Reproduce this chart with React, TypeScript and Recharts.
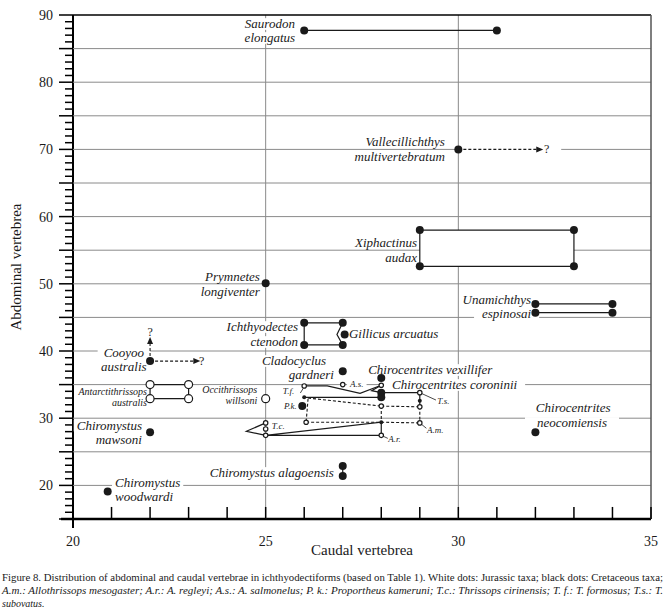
import { ComposedChart, Scatter, XAxis, YAxis } from 'recharts';

type Pt = { x: number; y: number };

// axes
const xTicks = [20, 21, 22, 23, 24, 25, 26, 27, 28, 29, 30, 31, 32, 33, 34, 35];
const yTicks = Array.from({ length: 76 }, (_, i) => 15 + i);
const gridY = [20, 25, 30, 35, 40, 45, 50, 55, 60, 65, 70, 75, 80, 85];
const gridX = [25, 30];

// ranges per taxon (caudal = x, abdominal = y)
const saurodon: Pt[] = [{ x: 26, y: 87.7 }, { x: 31, y: 87.7 }];
const vallecillichthys: Pt[] = [{ x: 30, y: 70 }, { x: 32.05, y: 70 }];
const xiphactinus: Pt[] = [
  { x: 29, y: 58 }, { x: 33, y: 58 }, { x: 33, y: 52.6 }, { x: 29, y: 52.6 }, { x: 29, y: 58 },
];
const unamichthysTop: Pt[] = [{ x: 32, y: 47 }, { x: 34, y: 47 }];
const unamichthysBottom: Pt[] = [{ x: 32, y: 45.7 }, { x: 34, y: 45.7 }];
const ichthyodectes: Pt[] = [
  { x: 27, y: 44.2 }, { x: 26, y: 44.2 }, { x: 26, y: 40.9 }, { x: 27, y: 40.9 },
  { x: 26.85, y: 42.45 }, { x: 27, y: 44.2 },
];
const cooyooUp: Pt[] = [{ x: 22, y: 38.5 }, { x: 22, y: 41.3 }];
const cooyooRight: Pt[] = [{ x: 22, y: 38.5 }, { x: 23.15, y: 38.5 }];
const antarctithrissops: Pt[] = [
  { x: 22, y: 35 }, { x: 23, y: 35 }, { x: 23, y: 32.9 }, { x: 22, y: 32.9 }, { x: 22, y: 35 },
];
const alagoensis: Pt[] = [{ x: 27, y: 22.9 }, { x: 27, y: 21.4 }];
const tfUpper: Pt[] = [{ x: 26, y: 34.8 }, { x: 26.6, y: 34.8 }, { x: 27.45, y: 33.7 }, { x: 28, y: 34.9 }];
const tfLower: Pt[] = [{ x: 26, y: 33.1 }, { x: 28, y: 33.1 }];
const coroniniiZig: Pt[] = [{ x: 28, y: 34.9 }, { x: 27.75, y: 34.1 }, { x: 28, y: 33.8 }];
const tsSolid: Pt[] = [{ x: 28, y: 33.8 }, { x: 29, y: 33.8 }, { x: 29, y: 31.7 }];
const tsDashed: Pt[] = [{ x: 28, y: 31.8 }, { x: 29, y: 31.7 }];
const pkDashed: Pt[] = [{ x: 26.1, y: 33 }, { x: 28, y: 31.8 }];
const vertDashedA: Pt[] = [{ x: 26.1, y: 32.9 }, { x: 26.05, y: 29.4 }];
const amDashed: Pt[] = [{ x: 26.05, y: 29.4 }, { x: 28, y: 29.4 }, { x: 29, y: 29.3 }];
const vertDashedB: Pt[] = [{ x: 28, y: 31.8 }, { x: 28, y: 29.4 }];
const vertDashedC: Pt[] = [{ x: 29, y: 31.7 }, { x: 29, y: 29.3 }];
const tcChevron: Pt[] = [{ x: 25, y: 29.3 }, { x: 24.5, y: 28.05 }, { x: 25, y: 27.45 }];
const arTriangle: Pt[] = [{ x: 25, y: 27.45 }, { x: 28, y: 29.4 }, { x: 28, y: 27.45 }, { x: 25, y: 27.45 }];
const leaders: Pt[][] = [
  [{ x: 29, y: 33.8 }, { x: 29.42, y: 32.7 }],
  [{ x: 29, y: 29.3 }, { x: 29.17, y: 28.5 }],
  [{ x: 28, y: 27.45 }, { x: 28.17, y: 27.0 }],
  [{ x: 25.9, y: 33.75 }, { x: 25.97, y: 34.4 }],
];

// dots
const cretaceousDots: Pt[] = [
  { x: 26, y: 87.7 }, { x: 31, y: 87.7 }, { x: 30, y: 70 },
  { x: 29, y: 58 }, { x: 33, y: 58 }, { x: 33, y: 52.6 }, { x: 29, y: 52.6 },
  { x: 32, y: 47 }, { x: 34, y: 47 }, { x: 32, y: 45.7 }, { x: 34, y: 45.7 },
  { x: 25, y: 50.1 }, { x: 22, y: 38.5 },
  { x: 26, y: 44.2 }, { x: 27, y: 44.2 }, { x: 26, y: 40.9 }, { x: 27, y: 40.9 }, { x: 27.05, y: 42.45 },
  { x: 27, y: 37 }, { x: 28, y: 36 }, { x: 28, y: 33.8 }, { x: 28, y: 33.1 }, { x: 25.95, y: 31.8 },
  { x: 22, y: 27.9 }, { x: 20.9, y: 19.1 }, { x: 27, y: 22.9 }, { x: 27, y: 21.4 }, { x: 32, y: 27.9 },
];
const jurassicDots: Pt[] = [
  { x: 22, y: 35 }, { x: 23, y: 35 }, { x: 22, y: 32.9 }, { x: 23, y: 32.9 }, { x: 25, y: 32.9 },
];
const smallOpenDots: Pt[] = [
  { x: 26, y: 34.8 }, { x: 27, y: 35 }, { x: 28, y: 34.9 }, { x: 29, y: 33.8 }, { x: 28, y: 31.8 },
  { x: 29, y: 31.7 }, { x: 29, y: 29.3 }, { x: 28, y: 27.45 }, { x: 25, y: 29.3 }, { x: 25, y: 28.4 },
  { x: 25, y: 27.45 }, { x: 26.05, y: 29.4 },
];
const smallFilledDots: Pt[] = [{ x: 26, y: 33.1 }, { x: 28, y: 29.4 }, { x: 29, y: 32.6 }];
const arrowUp: Pt[] = [{ x: 22, y: 41.5 }];
const arrowRight: Pt[] = [{ x: 23.2, y: 38.5 }, { x: 32.1, y: 70 }];

// annotations
type Lbl = { x: number; y: number; text: string; anchor: string; size: number; italic?: boolean; pad?: number };
const labels: Lbl[] = [
  { x: 25.11, y: 88.66, text: 'Saurodon', anchor: 'middle', size: 13 },
  { x: 25.11, y: 86.58, text: 'elongatus', anchor: 'middle', size: 13 },
  { x: 29.65, y: 71.1, text: 'Vallecillichthys', anchor: 'end', size: 13 },
  { x: 29.65, y: 68.87, text: 'multivertebratum', anchor: 'end', size: 13 },
  { x: 28.93, y: 56.07, text: 'Xiphactinus', anchor: 'end', size: 13 },
  { x: 28.93, y: 53.84, text: 'audax', anchor: 'end', size: 13 },
  { x: 31.89, y: 47.59, text: 'Unamichthys', anchor: 'end', size: 13 },
  { x: 31.89, y: 45.5, text: 'espinosai', anchor: 'end', size: 13, pad: 8 },
  { x: 24.85, y: 51.01, text: 'Prymnetes', anchor: 'end', size: 13 },
  { x: 24.85, y: 48.78, text: 'longiventer', anchor: 'end', size: 13 },
  { x: 25.84, y: 43.57, text: 'Ichthyodectes', anchor: 'end', size: 13 },
  { x: 25.84, y: 41.34, text: 'ctenodon', anchor: 'end', size: 13 },
  { x: 27.16, y: 42.53, text: 'Gillicus arcuatus', anchor: 'start', size: 13 },
  { x: 21.32, y: 39.75, text: 'Cooyoo', anchor: 'middle', size: 13, pad: 6 },
  { x: 21.32, y: 37.7, text: 'australis', anchor: 'middle', size: 13 },
  { x: 26.57, y: 38.51, text: 'Cladocyclus', anchor: 'end', size: 13 },
  { x: 26.77, y: 36.43, text: 'gardneri', anchor: 'end', size: 13 },
  { x: 27.66, y: 37.17, text: 'Chirocentrites vexillifer', anchor: 'start', size: 13 },
  { x: 28.28, y: 34.94, text: 'Chirocentrites coroninii', anchor: 'start', size: 13, pad: 8 },
  { x: 21.92, y: 33.9, text: 'Antarctithrissops', anchor: 'end', size: 10 },
  { x: 21.92, y: 32.26, text: 'australis', anchor: 'end', size: 10 },
  { x: 24.78, y: 34.2, text: 'Occithrissops', anchor: 'end', size: 10 },
  { x: 24.78, y: 32.56, text: 'willsoni', anchor: 'end', size: 10 },
  { x: 21.79, y: 28.9, text: 'Chiromystus', anchor: 'end', size: 13 },
  { x: 21.79, y: 26.85, text: 'mawsoni', anchor: 'end', size: 13 },
  { x: 32.98, y: 31.52, text: 'Chirocentrites', anchor: 'middle', size: 13, pad: 12 },
  { x: 32.95, y: 29.29, text: 'neocomiensis', anchor: 'middle', size: 13, pad: 12 },
  { x: 26.77, y: 21.85, text: 'Chiromystus alagoensis', anchor: 'end', size: 13, pad: 6 },
  { x: 21.09, y: 20.4, text: 'Chiromystus', anchor: 'start', size: 13 },
  { x: 21.09, y: 18.25, text: 'woodwardi', anchor: 'start', size: 13 },
  { x: 25.74, y: 34.05, text: 'T.f.', anchor: 'end', size: 9 },
  { x: 27.19, y: 35.09, text: 'A.s.', anchor: 'start', size: 9 },
  { x: 25.81, y: 31.82, text: 'P.k.', anchor: 'end', size: 9 },
  { x: 25.16, y: 28.84, text: 'T.c.', anchor: 'start', size: 9 },
  { x: 29.45, y: 32.56, text: 'T.s.', anchor: 'start', size: 9 },
  { x: 29.19, y: 28.24, text: 'A.m.', anchor: 'start', size: 9 },
  { x: 28.18, y: 26.9, text: 'A.r.', anchor: 'start', size: 9 },
  { x: 22.0, y: 42.83, text: '?', anchor: 'middle', size: 12, italic: false },
  { x: 23.27, y: 38.51, text: '?', anchor: 'start', size: 12, italic: false },
  { x: 32.22, y: 70.06, text: '?', anchor: 'start', size: 12, italic: false, pad: 12 },
];

const captionLines = [
  'Figure 8. Distribution of abdominal and caudal vertebrae in ichthyodectiforms (based on Table 1). White dots: Jurassic taxa; black dots: Cretaceous taxa;',
  'A.m.: Allothrissops mesogaster; A.r.: A. regleyi; A.s.: A. salmonelus; P. k.: Proportheus kameruni; T.c.: Thrissops cirinensis; T. f.: T. formosus; T.s.: T.',
  'subovatus.',
];

const FONT = '"Liberation Serif", "Times New Roman", serif';
const INK = '#1a1a1a';

let measureCtx: CanvasRenderingContext2D | null = null;
function textWidth(t: string, size: number, italic: boolean) {
  if (!measureCtx && typeof document !== 'undefined') {
    measureCtx = document.createElement('canvas').getContext('2d');
  }
  if (!measureCtx) return t.length * size * 0.45;
  measureCtx.font = `${italic ? 'italic ' : ''}${size}px "Liberation Serif"`;
  return measureCtx.measureText(t).width;
}

const Empty = () => <g />;

const Dot = (r: number, fill: string) => (p: any) =>
  <circle cx={p.cx} cy={p.cy} r={r} fill={fill} stroke={INK} strokeWidth={fill === '#fff' ? 1.2 : 0} />;

const ArrowUpHead = (p: any) => (
  <path d={`M${p.cx},${p.cy - 4} L${p.cx - 3},${p.cy + 3} L${p.cx + 3},${p.cy + 3} Z`} fill={INK} />
);
const ArrowRightHead = (p: any) => (
  <path d={`M${p.cx + 4},${p.cy} L${p.cx - 3},${p.cy - 3} L${p.cx - 3},${p.cy + 3} Z`} fill={INK} />
);

// x tick marks pointing up into the plot, one per entry of xTicks
const xTickPoints = xTicks.map((v) => ({ x: v, y: 15.9 }));
const XTickMark = (p: any) => (
  <path d={`M${p.cx},${p.cy + 6} L${p.cx},${p.cy - 6}`} stroke="#000" strokeWidth={1.5} fill="none" />
);

const LabelShape = (p: any) => {
  const l: Lbl = p.payload;
  const italic = l.italic !== false;
  const w = textWidth(l.text, l.size, italic);
  const pad = l.pad ?? 3;
  const x0 = l.anchor === 'end' ? p.cx - w : l.anchor === 'middle' ? p.cx - w / 2 : p.cx;
  return (
    <g>
      <rect x={x0 - pad} y={p.cy - l.size * 0.45} width={w + pad * 2} height={l.size * 0.9} fill="#fff" />
      <text
        x={p.cx}
        y={p.cy}
        dy="0.33em"
        textAnchor={l.anchor}
        fontSize={l.size}
        fontStyle={italic ? 'italic' : 'normal'}
        style={{ fontFamily: FONT }}
        fill={INK}
      >
        {l.text}
      </text>
    </g>
  );
};

const XTick = (p: any) => {
  const { x, y, payload } = p;
  if (payload.value % 5 !== 0) return <g />;
  return (
    <text x={x} y={y + 27} textAnchor="middle" fontSize={14} style={{ fontFamily: FONT }} fill={INK}>
      {payload.value}
    </text>
  );
};

// y tick: the axis draws the 8px minor line; majors get extended to 14px here
const YTick = (p: any) => {
  const { x, y, payload } = p;
  const major = payload.value % 5 === 0;
  const labelled = payload.value % 10 === 0;
  return (
    <g>
      {major && <path d={`M${x - 6},${y} L${x},${y}`} stroke="#000" strokeWidth={1.5} fill="none" />}
      {payload.value === 15 && (
        <g>
          <path d={`M${x - 4},${y} L${x + 8},${y}`} stroke="#000" strokeWidth={2.5} fill="none" />
          <path d={`M${x + 8},${y} L${x + 8},${y + 9}`} stroke="#000" strokeWidth={2} fill="none" />
        </g>
      )}
      {labelled && (
        <text x={x - 12} y={y} dy="0.35em" textAnchor="end" fontSize={14} style={{ fontFamily: FONT }} fill={INK}>
          {payload.value}
        </text>
      )}
    </g>
  );
};

const solidSeries: Pt[][] = [
  saurodon, unamichthysTop, unamichthysBottom, ichthyodectes, alagoensis,
  tfUpper, tfLower, coroniniiZig, tsSolid, tcChevron, arTriangle,
];
const dashedSeries: Pt[][] = [
  vallecillichthys, cooyooUp, cooyooRight, tsDashed, pkDashed, vertDashedA, amDashed, vertDashedB, vertDashedC,
];
const gridYLines = gridY.map((v) => [{ x: 20, y: v }, { x: 35, y: v }]);
const gridXLines = gridX.map((v) => [{ x: v, y: 15 }, { x: v, y: 90 }]);
const topBorder = [{ x: 20, y: 90 }, { x: 35, y: 90 }];
const rightBorder = [{ x: 35, y: 90 }, { x: 35, y: 15 }];

export default function App() {
  return (
    <div style={{ position: 'absolute', left: 0, top: 0, width: 665, height: 615, background: '#fff' }}>
      <ComposedChart width={665} height={615} margin={{ top: 15, right: 14, bottom: 66, left: 13 }}>
        <XAxis
          type="number"
          dataKey="x"
          domain={[20, 35]}
          ticks={xTicks}
          interval={0}
          height={30}
          tickSize={0}
          tickMargin={0}
          tickLine={false}
          tick={XTick}
          axisLine={{ stroke: '#000', strokeWidth: 2.5 }}
        />
        <YAxis
          type="number"
          dataKey="y"
          domain={[15, 90]}
          ticks={yTicks}
          interval={0}
          width={60}
          tickSize={8}
          tickMargin={0}
          tickLine={{ stroke: '#000', strokeWidth: 1.5 }}
          tick={YTick}
          axisLine={{ stroke: '#000', strokeWidth: 2 }}
        />
        {gridYLines.map((d, i) => (
          <Scatter
            key={`gy${i}`}
            data={d}
            line={{ stroke: '#8a8a8a', strokeWidth: 1 }}
            shape={Empty}
            isAnimationActive={false}
          />
        ))}
        {gridXLines.map((d, i) => (
          <Scatter
            key={`gx${i}`}
            data={d}
            line={{ stroke: '#8a8a8a', strokeWidth: 1 }}
            shape={Empty}
            isAnimationActive={false}
          />
        ))}
        <Scatter data={topBorder} line={{ stroke: '#000', strokeWidth: 1.5 }} shape={Empty} isAnimationActive={false} />
        <Scatter data={rightBorder} line={{ stroke: '#555', strokeWidth: 1.5 }} shape={Empty} isAnimationActive={false} />
        <Scatter data={xTickPoints} shape={XTickMark} isAnimationActive={false} />
        <Scatter data={labels} shape={LabelShape} isAnimationActive={false} />
        <Scatter
          data={vallecillichthys}
          line={{ stroke: '#fff', strokeWidth: 6 }}
          shape={Empty}
          isAnimationActive={false}
        />
        <Scatter
          data={xiphactinus}
          line={{ stroke: INK, strokeWidth: 1.2, fill: '#fff' }}
          shape={Empty}
          isAnimationActive={false}
        />
        <Scatter
          data={antarctithrissops}
          line={{ stroke: INK, strokeWidth: 1.2, fill: '#fff' }}
          shape={Empty}
          isAnimationActive={false}
        />
        {solidSeries.map((d, i) => (
          <Scatter
            key={`s${i}`}
            data={d}
            line={{ stroke: INK, strokeWidth: 1.2 }}
            shape={Empty}
            isAnimationActive={false}
          />
        ))}
        {dashedSeries.map((d, i) => (
          <Scatter
            key={`d${i}`}
            data={d}
            line={{ stroke: INK, strokeWidth: 1.1, strokeDasharray: '3 2' }}
            shape={Empty}
            isAnimationActive={false}
          />
        ))}
        {leaders.map((d, i) => (
          <Scatter
            key={`l${i}`}
            data={d}
            line={{ stroke: INK, strokeWidth: 0.8 }}
            shape={Empty}
            isAnimationActive={false}
          />
        ))}
        <Scatter data={arrowUp} shape={ArrowUpHead} isAnimationActive={false} />
        <Scatter data={arrowRight} shape={ArrowRightHead} isAnimationActive={false} />
        <Scatter data={cretaceousDots} shape={Dot(4, INK)} isAnimationActive={false} />
        <Scatter data={jurassicDots} shape={Dot(4, '#fff')} isAnimationActive={false} />
        <Scatter data={smallOpenDots} shape={Dot(2.2, '#fff')} isAnimationActive={false} />
        <Scatter data={smallFilledDots} shape={Dot(2, INK)} isAnimationActive={false} />
      </ComposedChart>
      <svg width={665} height={615} style={{ position: 'absolute', left: 0, top: 0, pointerEvents: 'none' }}>
        <text
          transform="translate(21,267) rotate(-90)"
          textAnchor="middle"
          fontSize={15}
          style={{ fontFamily: FONT }}
          fill={INK}
        >
          Abdominal vertebrea
        </text>
        <text x={362} y={555} textAnchor="middle" fontSize={15} style={{ fontFamily: FONT }} fill={INK}>
          Caudal vertebrea
        </text>
        <text x={2} y={581} fontSize={10} style={{ fontFamily: FONT }} fill={INK} textLength={661} lengthAdjust="spacingAndGlyphs">
          {captionLines[0]}
        </text>
        <text
          x={2}
          y={594}
          fontSize={10}
          fontStyle="italic"
          style={{ fontFamily: FONT }}
          fill={INK}
          textLength={661}
          lengthAdjust="spacingAndGlyphs"
        >
          {captionLines[1]}
        </text>
        <text x={2} y={607} fontSize={10} fontStyle="italic" style={{ fontFamily: FONT }} fill={INK}>
          {captionLines[2]}
        </text>
      </svg>
    </div>
  );
}
